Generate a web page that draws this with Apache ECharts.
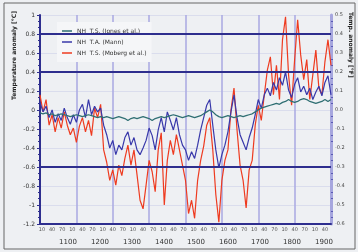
<!DOCTYPE html>
<html>
<head>
<meta charset="utf-8">
<script src="https://cdn.jsdelivr.net/npm/echarts@6/dist/echarts.min.js"></script>
<style>
html,body{margin:0;padding:0;background:#eef0f3;}
#chart{width:358px;height:252px;}
</style>
</head>
<body>
<div id="chart"></div>
<script>
// Series values (anomaly, left-axis units), one value per sample index 0..96
var redSeries = [
  0.16, -0.02, 0.11, -0.16, -0.05, -0.23, -0.08, -0.19, -0.02, -0.16,
  -0.26, -0.19, -0.34, -0.17, -0.08, -0.23, -0.11, -0.27, 0.02, -0.08,
  0.06, -0.42, -0.55, -0.74, -0.63, -0.79, -0.58, -0.69, -0.51, -0.37,
  -0.58, -0.42, -0.68, -0.95, -1.04, -0.79, -0.53, -0.65, -0.86, -0.42,
  -0.24, -1.00, -0.53, -0.32, -0.47, -0.26, -0.42, -0.58, -0.74, -1.09,
  -0.95, -1.14, -0.74, -0.53, -0.38, -0.16, -0.08, -0.42, -0.89, -1.18,
  -0.74, -0.53, -0.42, 0.00, 0.23, -0.21, -0.58, -0.74, -1.03, -0.63,
  -0.53, -0.16, 0.05, -0.11, 0.16, 0.42, 0.56, 0.16, 0.47, 0.11,
  0.74, 0.98, 0.37, 0.05, 0.53, 0.95, 0.58, 0.32, 0.53, 0.11,
  0.37, 0.63, 0.23, 0.16, 0.51, 0.74, 0.47
];
var blueSeries = [
  0.08, -0.02, 0.04, -0.08, 0.00, -0.13, -0.04, -0.11, 0.02, -0.08,
  -0.15, -0.05, -0.13, 0.00, 0.06, -0.08, 0.11, -0.05, 0.04, -0.02,
  0.02, -0.16, -0.26, -0.40, -0.32, -0.47, -0.37, -0.42, -0.29, -0.23,
  -0.37, -0.29, -0.42, -0.47, -0.40, -0.32, -0.19, -0.27, -0.42, -0.21,
  -0.08, -0.23, -0.02, -0.11, -0.21, -0.08, -0.26, -0.37, -0.42, -0.53,
  -0.44, -0.51, -0.37, -0.21, -0.08, 0.05, 0.11, -0.16, -0.42, -0.61,
  -0.47, -0.37, -0.23, -0.02, 0.16, -0.08, -0.26, -0.34, -0.42, -0.29,
  -0.19, -0.05, 0.11, 0.02, 0.16, 0.23, 0.15, 0.29, 0.21, 0.34,
  0.26, 0.40, 0.21, 0.13, 0.27, 0.34, 0.19, 0.25, 0.16, 0.23,
  0.11, 0.19, 0.25, 0.15, 0.29, 0.36, 0.16
];
var tealSeries = [
  -0.03, -0.04, -0.03, -0.05, -0.04, -0.06, -0.05, -0.04, -0.05, -0.06,
  -0.07, -0.06, -0.05, -0.06, -0.07, -0.06, -0.05, -0.06, -0.07, -0.08,
  -0.07, -0.08, -0.07, -0.08, -0.09, -0.08, -0.07, -0.08, -0.09, -0.11,
  -0.09, -0.08, -0.09, -0.08, -0.07, -0.08, -0.09, -0.11, -0.09, -0.08,
  -0.07, -0.08, -0.07, -0.06, -0.05, -0.06, -0.07, -0.08, -0.07, -0.06,
  -0.07, -0.08, -0.07, -0.06, -0.04, -0.02, 0.00, -0.02, -0.05, -0.07,
  -0.08, -0.07, -0.06, -0.07, -0.08, -0.07, -0.06, -0.07, -0.06, -0.05,
  -0.04, -0.02, 0.00, 0.02, 0.03, 0.04, 0.05, 0.06, 0.07, 0.06,
  0.08, 0.09, 0.11, 0.09, 0.08, 0.09, 0.11, 0.12, 0.11, 0.09,
  0.08, 0.07, 0.08, 0.09, 0.11, 0.09, 0.11
];
var seriesNames = ['NH  T.S. (Jones et al.)', 'NH  T.A. (Mann)', 'NH  T.S. (Moberg et al.)'];
var majorLines = [0.8, 0.4, -0.6];
var minorXLabels = ['10','40','70','10','40','70','10','40','70','10','40','70','10','40','70',
                    '10','40','70','10','40','70','10','40','70','10','40','70','10','40'];
var majorXLabels = ['1100','1200','1300','1400','1500','1600','1700','1800','1900'];

function pairs(arr){ return arr.map(function(v,i){ return [i, v]; }); }

var chart = echarts.init(document.getElementById('chart'), null, {renderer:'canvas'});
var darkBlue = '#2e2e8e';
chart.setOption({
  backgroundColor: '#eef0f3',
  animation: false,
  grid: [
    {left: 40, right: 27, top: 15, bottom: 28, show: false},
    {left: 42, right: 33, top: 15, bottom: 28, show: false},
    {left: 68, right: 34, top: 15, bottom: 28, show: false}
  ],
  legend: {
    data: seriesNames,
    orient: 'vertical',
    left: 57, top: 22,
    backgroundColor: '#f5f6f8',
    padding: [6, 5, 6, 5],
    itemGap: 5,
    icon: 'rect',
    itemWidth: 10, itemHeight: 1.5,
    textStyle: {fontSize: 6, color: '#333', fontFamily: 'DejaVu Sans'}
  },
  xAxis: [
    {gridIndex: 0, type: 'value', min: 0, max: 96, interval: 12,
     axisLine: {show: true, onZero: false, lineStyle: {color: darkBlue, width: 2}},
     axisTick: {show: false}, axisLabel: {show: false},
     splitLine: {show: true, lineStyle: {color: '#a9a9e2', width: 1.5}}},
    {gridIndex: 1, type: 'category', data: minorXLabels, boundaryGap: false,
     axisLine: {show: false}, axisTick: {show: false}, splitLine: {show: false},
     axisLabel: {interval: 0, fontSize: 5, color: '#555', margin: 3, fontFamily: 'DejaVu Sans'}},
    {gridIndex: 2, type: 'category', data: majorXLabels, boundaryGap: false,
     axisLine: {show: false}, axisTick: {show: false}, splitLine: {show: false},
     axisLabel: {interval: 0, fontSize: 7, color: '#333', margin: 15, fontFamily: 'DejaVu Sans'}}
  ],
  yAxis: [
    {gridIndex: 0, type: 'value', min: -1.2, max: 1.0, interval: 0.2, position: 'left',
     axisLine: {show: true, lineStyle: {color: darkBlue, width: 2}},
     axisTick: {show: true, length: 3, lineStyle: {color: darkBlue}},
     minorTick: {show: true, splitNumber: 3, length: 2, lineStyle: {color: darkBlue}},
     axisLabel: {fontSize: 6, color: '#333', margin: 5, fontFamily: 'DejaVu Sans'},
     splitLine: {show: true, lineStyle: {color: '#dadded', width: 1}}},
    {gridIndex: 0, type: 'value', min: -0.6, max: 0.5, interval: 0.1, position: 'right',
     axisLine: {show: true, lineStyle: {color: '#a6a6de', width: 3}},
     axisTick: {show: false},
     minorTick: {show: true, splitNumber: 3, length: 2, lineStyle: {color: '#5a5ab4'}},
     axisLabel: {fontSize: 5, color: '#444', margin: 4, fontFamily: 'DejaVu Sans',
                 formatter: function(v){ return v.toFixed(1); }},
     splitLine: {show: false}},
    {gridIndex: 1, type: 'value', show: false},
    {gridIndex: 2, type: 'value', show: false}
  ],
  graphic: [
    {type: 'rect', shape: {x: 4, y: 3, width: 351, height: 246},
     style: {fill: 'none', stroke: '#666', lineWidth: 1}, silent: true, z: 100},
    {type: 'text', x: 14, y: 100, rotation: Math.PI / 2,
     style: {text: 'Temperature anomaly [°C]', fontSize: 6, fontWeight: 'bold', fill: '#222',
             fontFamily: 'DejaVu Sans', textAlign: 'left', textVerticalAlign: 'middle'}},
    {type: 'text', x: 351, y: 12, rotation: -Math.PI / 2,
     style: {text: 'Temp. anomaly [°F]', fontSize: 6, fontWeight: 'bold', fill: '#222',
             fontFamily: 'DejaVu Sans', textAlign: 'left', textVerticalAlign: 'middle'}}
  ],
  series: [
    {name: 'guides', type: 'line', xAxisIndex: 0, yAxisIndex: 0, z: 1,
     data: pairs(tealSeries), symbol: 'none', lineStyle: {opacity: 0}, silent: true,
     markLine: {silent: true, symbol: 'none', label: {show: false},
       lineStyle: {color: darkBlue, width: 2, type: 'solid'},
       data: majorLines.map(function(v){ return {yAxis: v}; })}},
    {name: seriesNames[2], type: 'line', xAxisIndex: 0, yAxisIndex: 0, z: 3,
     data: pairs(redSeries), symbol: 'none', color: '#ee3b20',
     lineStyle: {width: 1.2, color: '#ee3b20'}},
    {name: seriesNames[1], type: 'line', xAxisIndex: 0, yAxisIndex: 0, z: 4,
     data: pairs(blueSeries), symbol: 'none', color: '#3838aa',
     lineStyle: {width: 1.2, color: '#3838aa'}},
    {name: seriesNames[0], type: 'line', xAxisIndex: 0, yAxisIndex: 0, z: 5,
     data: pairs(tealSeries), symbol: 'none', color: '#2f6f73',
     lineStyle: {width: 1.3, color: '#2f6f73'}}
  ]
});
</script>
</body>
</html>
